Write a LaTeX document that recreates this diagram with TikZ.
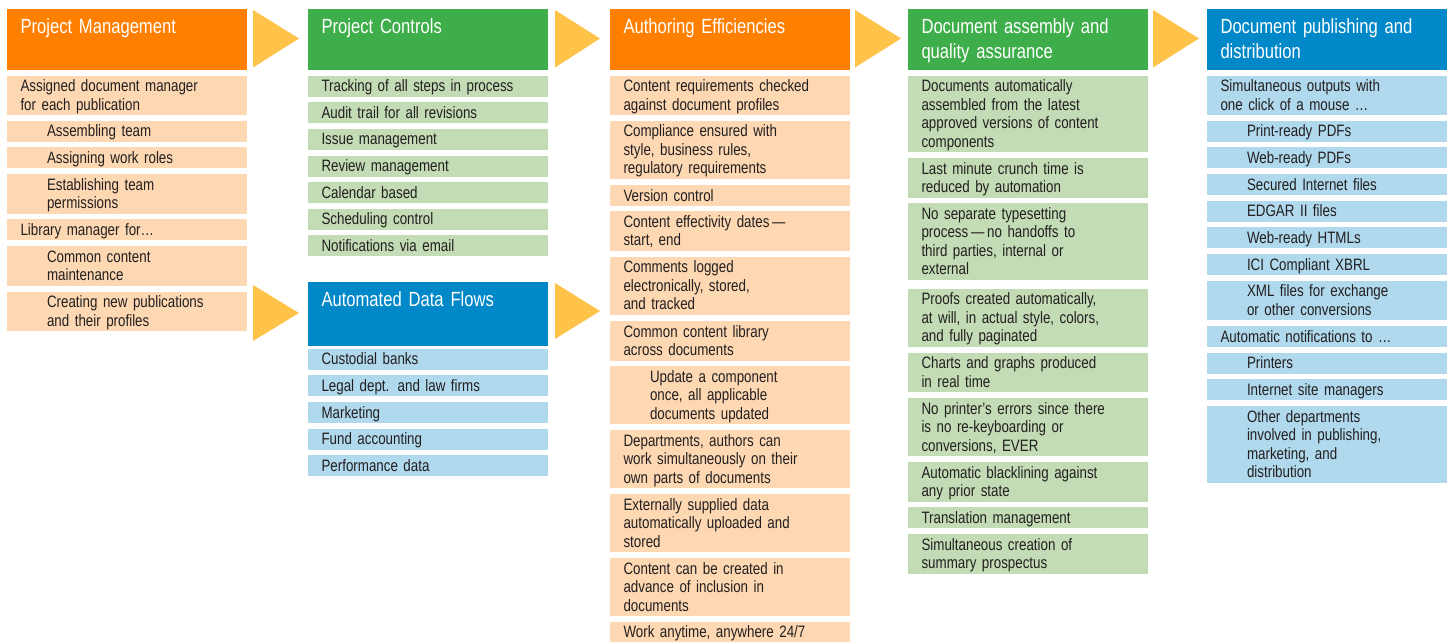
\documentclass[tikz,border=0pt]{standalone}
\usepackage{fontspec}
\setmainfont{Liberation Sans}[FakeStretch=0.81]
\definecolor{ohd}{HTML}{FF8000}
\definecolor{olt}{HTML}{FDD8B2}
\definecolor{ghd}{HTML}{3EAE4A}
\definecolor{glt}{HTML}{C3DCB6}
\definecolor{bhd}{HTML}{0088C8}
\definecolor{blt}{HTML}{B0D9ED}
\definecolor{arr}{HTML}{FFC34A}
\definecolor{txt}{HTML}{231F20}
\newcommand\mystrut{\rule[-3.75pt]{0pt}{18.5pt}}
\tikzset{
  row/.style={anchor=north west, text width=240pt, inner xsep=0pt, inner ysep=1.25pt,
    outer sep=0pt, align=left, font=\fontsize{16.5}{18.5}\selectfont, text=txt,
    execute at begin node={\leftskip=#1\mystrut}, execute at end node={\mystrut}},
  row/.default=13.5pt,
  hd/.style={anchor=north west, text width=240pt, inner xsep=0pt, inner ysep=0pt,
    outer sep=0pt, align=left, font=\fontsize{20.5}{25}\selectfont, text=white,
    execute at begin node={\leftskip=13.5pt\rule{0pt}{24pt}},
    execute at end node={\rule[-#1]{0pt}{#1}}},
  hd/.default=37pt,
  flow/.style={fill=arr}
}
\begin{document}
\begin{tikzpicture}[x=1pt,y=-1pt]
\fill[white] (0,0) rectangle (1448,641);
\useasboundingbox (0,0) rectangle (1448,641);

% Column 1
\node[hd, fill=ohd] (h1) at (7,9) {Project Management};
\node[row, fill=olt] (c1a) at (7,75.7) {Assigned document manager\\for each publication};
\node[row=40pt, fill=olt] (c1b) at (7,120.7) {Assembling team};
\node[row=40pt, fill=olt] (c1c) at (7,147.3) {Assigning work roles};
\node[row=40pt, fill=olt] (c1d) at (7,174) {Establishing team\\permissions};
\node[row, fill=olt] (c1e) at (7,219.3) {Library manager for…};
\node[row=40pt, fill=olt] (c1f) at (7,246) {Common content\\maintenance};
\node[row=40pt, fill=olt] (c1g) at (7,291.7) {Creating new publications\\and their profiles};

% Column 2
\node[hd, fill=ghd] (h2) at (308,9) {Project Controls};
\node[row, fill=glt] (c2a) at (308,75.7) {Tracking of all steps in process};
\node[row, fill=glt] (c2b) at (308,102.3) {Audit trail for all revisions};
\node[row, fill=glt] (c2c) at (308,128.9) {Issue management};
\node[row, fill=glt] (c2d) at (308,155.5) {Review management};
\node[row, fill=glt] (c2e) at (308,182.1) {Calendar based};
\node[row, fill=glt] (c2f) at (308,208.7) {Scheduling control};
\node[row, fill=glt] (c2g) at (308,235.3) {Notifications via email};

\node[hd=40pt, fill=bhd] (adf) at (308,282) {Automated Data Flows};
\node[row, fill=blt] (d1) at (308,348.7) {Custodial banks};
\node[row, fill=blt] (d2) at (308,375.3) {Legal dept. and law firms};
\node[row, fill=blt] (d3) at (308,402) {Marketing};
\node[row, fill=blt] (d4) at (308,428.7) {Fund accounting};
\node[row, fill=blt] (d5) at (308,455.3) {Performance data};

% Column 3
\node[hd, fill=ohd] (h3) at (610,9) {Authoring Efficiencies};
\node[row, fill=olt] (c3a) at (610,75.7) {Content requirements checked\\against document profiles};
\node[row, fill=olt] (c3b) at (610,120.7) {Compliance ensured with\\style, business rules,\\regulatory requirements};
\node[row, fill=olt] (c3c) at (610,185) {Version control};
\node[row, fill=olt] (c3d) at (610,211) {Content effectivity dates\,—\\start, end};
\node[row, fill=olt] (c3e) at (610,256.7) {Comments logged\\electronically, stored,\\and tracked};
\node[row, fill=olt] (c3f) at (610,321) {Common content library\\across documents};
\node[row=40pt, fill=olt] (c3g) at (610,366) {Update a component\\once, all applicable\\documents updated};
\node[row, fill=olt] (c3h) at (610,430) {Departments, authors can\\work simultaneously on their\\own parts of documents};
\node[row, fill=olt] (c3i) at (610,494) {Externally supplied data\\automatically uploaded and\\stored};
\node[row, fill=olt] (c3j) at (610,558.3) {Content can be created in\\advance of inclusion in\\documents};
\node[row, fill=olt] (c3k) at (610,621.7) {Work anytime, anywhere 24/7};

% Column 4
\node[hd=12pt, fill=ghd] (h4) at (908,9) {Document assembly and\\quality assurance};
\node[row, fill=glt] (c4a) at (908,75.7) {Documents automatically\\assembled from the latest\\approved versions of content\\components};
\node[row, fill=glt] (c4b) at (908,158.3) {Last minute crunch time is\\reduced by automation};
\node[row, fill=glt] (c4c) at (908,203.3) {No separate typesetting\\process\,—\,no handoffs to\\third parties, internal or\\external};
\node[row, fill=glt] (c4d) at (908,288.7) {Proofs created automatically,\\at will, in actual style, colors,\\and fully paginated};
\node[row, fill=glt] (c4e) at (908,352.7) {Charts and graphs produced\\in real time};
\node[row, fill=glt] (c4f) at (908,398.3) {No printer’s errors since there\\is no re-keyboarding or\\conversions, EVER};
\node[row, fill=glt] (c4g) at (908,462.3) {Automatic blacklining against\\any prior state};
\node[row, fill=glt] (c4h) at (908,507.3) {Translation management};
\node[row, fill=glt] (c4i) at (908,534) {Simultaneous creation of\\summary prospectus};

% Column 5
\node[hd=12pt, fill=bhd] (h5) at (1207,9) {Document publishing and\\distribution};
\node[row, fill=blt] (c5a) at (1207,75.7) {Simultaneous outputs with\\one click of a mouse …};
\node[row=40pt, fill=blt] (c5b) at (1207,120.7) {Print-ready PDFs};
\node[row=40pt, fill=blt] (c5c) at (1207,147.3) {Web-ready PDFs};
\node[row=40pt, fill=blt] (c5d) at (1207,174) {Secured Internet files};
\node[row=40pt, fill=blt] (c5e) at (1207,200.7) {EDGAR II files};
\node[row=40pt, fill=blt] (c5f) at (1207,227.3) {Web-ready HTMLs};
\node[row=40pt, fill=blt] (c5g) at (1207,254) {ICI Compliant XBRL};
\node[row=40pt, fill=blt] (c5h) at (1207,280.7) {XML files for exchange\\or other conversions};
\node[row, fill=blt] (c5i) at (1207,326) {Automatic notifications to …};
\node[row=40pt, fill=blt] (c5j) at (1207,352.7) {Printers};
\node[row=40pt, fill=blt] (c5k) at (1207,379.3) {Internet site managers};
\node[row=40pt, fill=blt] (c5l) at (1207,406) {Other departments\\involved in publishing,\\marketing, and\\distribution};

% Flow arrows
\fill[flow] ([xshift=6pt,yshift=29.5pt]h1.east) -- ([xshift=52pt,yshift=1pt]h1.east) -- ([xshift=6pt,yshift=-28pt]h1.east) -- cycle;
\fill[flow] ([xshift=7pt,yshift=29.5pt]h2.east) -- ([xshift=52pt,yshift=1pt]h2.east) -- ([xshift=7pt,yshift=-28pt]h2.east) -- cycle;
\fill[flow] ([xshift=5pt,yshift=29.5pt]h3.east) -- ([xshift=51pt,yshift=1pt]h3.east) -- ([xshift=5pt,yshift=-28pt]h3.east) -- cycle;
\fill[flow] ([xshift=5pt,yshift=29.5pt]h4.east) -- ([xshift=51pt,yshift=1pt]h4.east) -- ([xshift=5pt,yshift=-28pt]h4.east) -- cycle;
\fill[flow] ([xshift=-55pt,yshift=29pt]adf.west) -- ([xshift=-9pt,yshift=1pt]adf.west) -- ([xshift=-55pt,yshift=-27pt]adf.west) -- cycle;
\fill[flow] ([xshift=7pt,yshift=31pt]adf.east) -- ([xshift=52pt,yshift=3pt]adf.east) -- ([xshift=7pt,yshift=-25pt]adf.east) -- cycle;
\end{tikzpicture}
\end{document}
